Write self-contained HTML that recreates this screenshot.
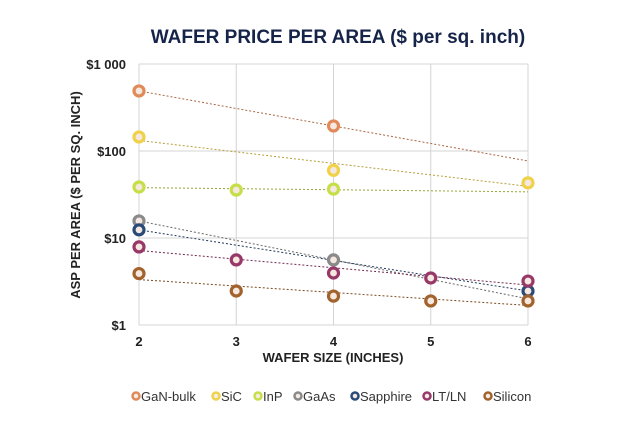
<!DOCTYPE html>
<html><head><meta charset="utf-8"><style>
body{margin:0;background:#fff;width:630px;height:440px;overflow:hidden;font-family:"Liberation Sans",sans-serif}
</style></head><body>
<svg id="c" width="630" height="440">
<text x="338" y="43" text-anchor="middle" font-size="19" font-weight="bold" fill="#16244a">WAFER PRICE PER AREA ($ per sq. inch)</text>
<text transform="translate(80,195) rotate(-90)" text-anchor="middle" font-size="13" font-weight="bold" fill="#222">ASP PER AREA ($ PER SQ. INCH)</text>
<text x="333" y="362" text-anchor="middle" font-size="13" font-weight="bold" fill="#222">WAFER SIZE (INCHES)</text>
<g id="grid"></g><g id="lines"></g><g id="marks"></g><g id="legend"></g>
</svg>
<script>
const categories=[2,3,4,5,6];
const seriesNames=["GaN-bulk","SiC","InP","GaAs","Sapphire","LT/LN","Silicon"];
const ganX=[2,4], ganY=[490,194];
const sicX=[2,4,6], sicY=[145,60,43];
const inpX=[2,3,4], inpY=[38.6,35.6,36.5];
const gaasX=[2,4], gaasY=[15.7,5.6];
const sapX=[2,6], sapY=[12.4,2.46];
const ltX=[2,3,4,5,6], ltY=[7.9,5.6,3.96,3.47,3.2];
const siX=[2,3,4,5,6], siY=[3.9,2.46,2.15,1.89,1.89];
const yTicks=[1,10,100,1000];
const yTickLabels=["$1","$10","$100","$1 000"];
const colors=["#e08a5a","#f0d24a","#c6df48","#8a8a8a","#2a4a78","#983868","#a2622c"];
const xs=[ganX,sicX,inpX,gaasX,sapX,ltX,siX], ys=[ganY,sicY,inpY,gaasY,sapY,ltY,siY];
const NS="http://www.w3.org/2000/svg";
const X0=139,X1=528,Y0=325,DEC=87;
const sx=v=>X0+(v-2)*(X1-X0)/4;
const sy=v=>Y0-Math.log10(v)*DEC;
function mk(t,a,p){const e=document.createElementNS(NS,t);for(const k in a)e.setAttribute(k,a[k]);p.appendChild(e);return e;}
const grid=document.getElementById('grid');
categories.forEach(c=>{
 const l=mk('line',{x1:sx(c),x2:sx(c),y1:sy(1000),y2:Y0,stroke:'#d4d4d4'},grid);
 
 
 const t=mk('text',{x:sx(c),y:Y0+21,'text-anchor':'middle','font-size':13,'font-weight':'bold',fill:'#222'},grid);
 t.textContent=c;
 
 
});
yTicks.forEach((v,i)=>{
 const l=mk('line',{x1:X0,x2:X1,y1:sy(v),y2:sy(v),stroke:'#d4d4d4'},grid);
 
 
 const t=mk('text',{x:X0-13,y:sy(v)+5,'text-anchor':'end','font-size':13,'font-weight':'bold',fill:'#222'},grid);
 t.textContent=yTickLabels[i];
 
 
});
const lines=document.getElementById('lines'),marks=document.getElementById('marks');
xs.forEach((xa,s)=>{
 const ya=ys[s].map(Math.log10),n=xa.length;
 const mx=xa.reduce((a,b)=>a+b)/n,my=ya.reduce((a,b)=>a+b)/n;
 let num=0,den=0;xa.forEach((x,i)=>{num+=(x-mx)*(ya[i]-my);den+=(x-mx)*(x-mx);});
 const b=num/den,a=my-b*mx;
 const l=mk('line',{x1:sx(2),y1:Y0-(a+2*b)*DEC,x2:sx(6),y2:Y0-(a+6*b)*DEC,stroke:colors[s],'stroke-width':1,'stroke-dasharray':'2 2',filter:'brightness(0.75)'},lines);
 
 
 xa.forEach((x,i)=>{
  const c=mk('circle',{cx:sx(x),cy:sy(ys[s][i]),r:5,fill:'#f4e8e0',stroke:colors[s],'stroke-width':3.2},marks);
  
  
 });
});
const lg=document.getElementById('legend');
const lx=[136,216,258,298,355,427,488];
seriesNames.forEach((n,i)=>{
 const c=mk('circle',{cx:lx[i],cy:396,r:3.5,fill:'#f4ece4',stroke:colors[i],'stroke-width':2.5},lg);
 
 
 const t=mk('text',{x:lx[i]+5,y:401,'font-size':13,fill:'#333'},lg);
 t.textContent=n;
 
 
});
</script>
</body></html>
